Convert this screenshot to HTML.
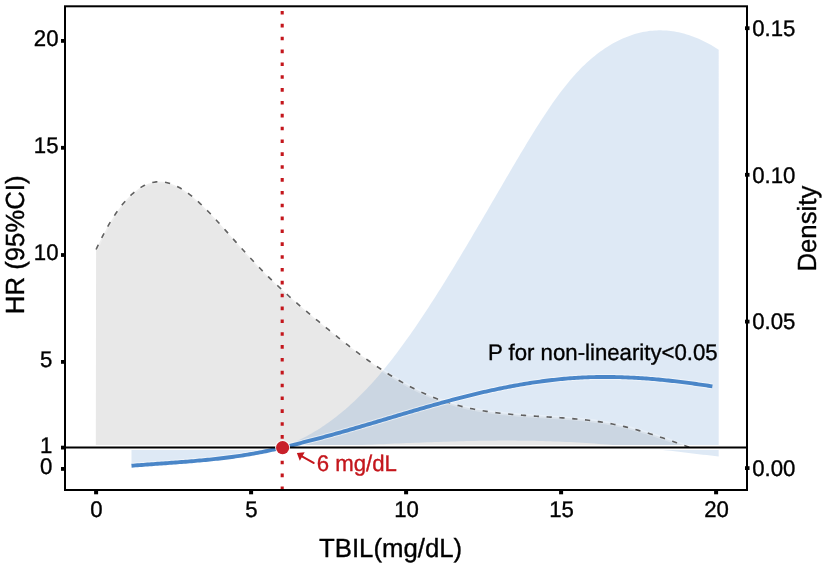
<!DOCTYPE html>
<html><head><meta charset="utf-8"><style>
html,body{margin:0;padding:0;background:#fff;}
svg{display:block;font-family:"Liberation Sans",sans-serif;text-rendering:geometricPrecision;}
</style></head><body>
<div style="will-change:transform;width:827px;height:568px">
<svg width="827" height="568" viewBox="0 0 827 568">
<rect x="0" y="0" width="827" height="568" fill="#fff"/>
<!-- grey density area -->
<path d="M96.10,249.47 L98.10,245.18 L100.10,241.03 L102.10,237.02 L104.11,233.16 L106.11,229.45 L108.11,225.87 L110.11,222.45 L112.11,219.16 L114.11,216.02 L116.11,213.02 L118.11,210.16 L120.12,207.44 L122.12,204.86 L124.12,202.42 L126.12,200.12 L128.12,197.95 L130.12,195.93 L132.12,194.04 L134.13,192.29 L136.13,190.68 L138.13,189.20 L140.13,187.86 L142.13,186.65 L144.13,185.57 L146.13,184.63 L148.14,183.83 L150.14,183.15 L152.14,182.61 L154.14,182.20 L156.14,181.91 L158.14,181.76 L160.14,181.74 L162.14,181.85 L164.15,182.08 L166.15,182.44 L168.15,182.92 L170.15,183.51 L172.15,184.21 L174.15,185.02 L176.15,185.93 L178.16,186.94 L180.16,188.05 L182.16,189.25 L184.16,190.54 L186.16,191.91 L188.16,193.36 L190.16,194.89 L192.16,196.49 L194.17,198.16 L196.17,199.90 L198.17,201.70 L200.17,203.55 L202.17,205.46 L204.17,207.41 L206.17,209.41 L208.18,211.46 L210.18,213.54 L212.18,215.65 L214.18,217.80 L216.18,219.97 L218.18,222.17 L220.18,224.38 L222.18,226.61 L224.19,228.85 L226.19,231.10 L228.19,233.35 L230.19,235.60 L232.19,237.85 L234.19,240.10 L236.19,242.35 L238.20,244.59 L240.20,246.83 L242.20,249.06 L244.20,251.28 L246.20,253.49 L248.20,255.69 L250.20,257.87 L252.21,260.04 L254.21,262.19 L256.21,264.32 L258.21,266.42 L260.21,268.51 L262.21,270.57 L264.21,272.61 L266.21,274.63 L268.22,276.63 L270.22,278.60 L272.22,280.55 L274.22,282.49 L276.22,284.40 L278.22,286.29 L280.22,288.17 L282.23,290.03 L284.23,291.87 L286.23,293.70 L288.23,295.51 L290.23,297.30 L292.23,299.08 L294.23,300.85 L296.23,302.61 L298.24,304.35 L300.24,306.08 L302.24,307.80 L304.24,309.51 L306.24,311.21 L308.24,312.90 L310.24,314.59 L312.25,316.26 L314.25,317.93 L316.25,319.59 L318.25,321.24 L320.25,322.89 L322.25,324.53 L324.25,326.17 L326.25,327.80 L328.26,329.43 L330.26,331.06 L332.26,332.69 L334.26,334.31 L336.26,335.93 L338.26,337.54 L340.26,339.14 L342.27,340.74 L344.27,342.32 L346.27,343.90 L348.27,345.47 L350.27,347.03 L352.27,348.58 L354.27,350.12 L356.28,351.64 L358.28,353.15 L360.28,354.65 L362.28,356.13 L364.28,357.59 L366.28,359.05 L368.28,360.48 L370.28,361.90 L372.29,363.31 L374.29,364.70 L376.29,366.07 L378.29,367.43 L380.29,368.77 L382.29,370.09 L384.29,371.40 L386.30,372.69 L388.30,373.96 L390.30,375.21 L392.30,376.45 L394.30,377.66 L396.30,378.86 L398.30,380.04 L400.30,381.20 L402.31,382.34 L404.31,383.46 L406.31,384.56 L408.31,385.65 L410.31,386.71 L412.31,387.75 L414.31,388.77 L416.32,389.76 L418.32,390.74 L420.32,391.69 L422.32,392.63 L424.32,393.54 L426.32,394.43 L428.32,395.29 L430.32,396.14 L432.33,396.96 L434.33,397.75 L436.33,398.53 L438.33,399.28 L440.33,400.00 L442.33,400.71 L444.33,401.39 L446.34,402.05 L448.34,402.69 L450.34,403.31 L452.34,403.90 L454.34,404.48 L456.34,405.04 L458.34,405.58 L460.35,406.10 L462.35,406.60 L464.35,407.08 L466.35,407.55 L468.35,408.00 L470.35,408.43 L472.35,408.84 L474.35,409.24 L476.36,409.63 L478.36,410.00 L480.36,410.36 L482.36,410.70 L484.36,411.03 L486.36,411.34 L488.36,411.64 L490.37,411.93 L492.37,412.21 L494.37,412.48 L496.37,412.73 L498.37,412.98 L500.37,413.21 L502.37,413.44 L504.37,413.66 L506.38,413.86 L508.38,414.06 L510.38,414.25 L512.38,414.44 L514.38,414.61 L516.38,414.78 L518.38,414.95 L520.39,415.10 L522.39,415.26 L524.39,415.40 L526.39,415.55 L528.39,415.69 L530.39,415.82 L532.39,415.95 L534.39,416.08 L536.40,416.21 L538.40,416.34 L540.40,416.46 L542.40,416.59 L544.40,416.71 L546.40,416.83 L548.40,416.96 L550.41,417.08 L552.41,417.21 L554.41,417.34 L556.41,417.47 L558.41,417.60 L560.41,417.74 L562.41,417.88 L564.42,418.03 L566.42,418.18 L568.42,418.33 L570.42,418.49 L572.42,418.66 L574.42,418.83 L576.42,419.01 L578.42,419.20 L580.43,419.40 L582.43,419.60 L584.43,419.82 L586.43,420.04 L588.43,420.27 L590.43,420.52 L592.43,420.77 L594.44,421.04 L596.44,421.31 L598.44,421.60 L600.44,421.91 L602.44,422.22 L604.44,422.55 L606.44,422.89 L608.44,423.25 L610.45,423.62 L612.45,424.01 L614.45,424.41 L616.45,424.83 L618.45,425.26 L620.45,425.71 L622.45,426.18 L624.46,426.65 L626.46,427.14 L628.46,427.65 L630.46,428.17 L632.46,428.70 L634.46,429.24 L636.46,429.79 L638.46,430.36 L640.47,430.93 L642.47,431.52 L644.47,432.11 L646.47,432.72 L648.47,433.33 L650.47,433.95 L652.47,434.58 L654.48,435.22 L656.48,435.87 L658.48,436.52 L660.48,437.18 L662.48,437.85 L664.48,438.52 L666.48,439.20 L668.49,439.88 L670.49,440.57 L672.49,441.26 L674.49,441.96 L676.49,442.66 L678.49,443.36 L680.49,444.06 L682.49,444.77 L684.50,445.48 L686.50,446.18 L688.50,446.89 L690.50,447.60 L690.50,446 L95.8,446 Z" fill="#e8e8e8"/>
<!-- CI ribbon -->
<path d="M131.5,465.08 L131.5,447.5 L282.6,447.5 L282.60,446.86 L284.60,446.13 L286.60,445.37 L288.60,444.59 L290.60,443.77 L292.60,442.93 L294.60,442.05 L296.60,441.15 L298.60,440.21 L300.60,439.25 L302.60,438.25 L304.61,437.22 L306.61,436.17 L308.61,435.08 L310.61,433.96 L312.61,432.81 L314.61,431.62 L316.61,430.40 L318.61,429.16 L320.61,427.88 L322.61,426.56 L324.61,425.22 L326.61,423.84 L328.61,422.42 L330.61,420.98 L332.61,419.50 L334.61,417.98 L336.61,416.43 L338.61,414.85 L340.61,413.23 L342.61,411.58 L344.61,409.89 L346.61,408.17 L348.62,406.41 L350.62,404.62 L352.62,402.79 L354.62,400.92 L356.62,399.02 L358.62,397.08 L360.62,395.11 L362.62,393.10 L364.62,391.05 L366.62,388.96 L368.62,386.83 L370.62,384.67 L372.62,382.47 L374.62,380.23 L376.62,377.96 L378.62,375.64 L380.62,373.29 L382.62,370.90 L384.62,368.47 L386.62,366.01 L388.62,363.52 L390.62,360.98 L392.63,358.42 L394.63,355.82 L396.63,353.19 L398.63,350.53 L400.63,347.83 L402.63,345.11 L404.63,342.35 L406.63,339.57 L408.63,336.75 L410.63,333.91 L412.63,331.04 L414.63,328.15 L416.63,325.23 L418.63,322.28 L420.63,319.31 L422.63,316.32 L424.63,313.30 L426.63,310.26 L428.63,307.19 L430.63,304.11 L432.63,301.00 L434.63,297.88 L436.64,294.73 L438.64,291.56 L440.64,288.38 L442.64,285.18 L444.64,281.96 L446.64,278.73 L448.64,275.48 L450.64,272.22 L452.64,268.94 L454.64,265.64 L456.64,262.34 L458.64,259.02 L460.64,255.69 L462.64,252.35 L464.64,249.00 L466.64,245.64 L468.64,242.27 L470.64,238.89 L472.64,235.50 L474.64,232.11 L476.64,228.71 L478.64,225.30 L480.65,221.89 L482.65,218.47 L484.65,215.05 L486.65,211.63 L488.65,208.20 L490.65,204.78 L492.65,201.35 L494.65,197.92 L496.65,194.49 L498.65,191.06 L500.65,187.63 L502.65,184.20 L504.65,180.78 L506.65,177.36 L508.65,173.94 L510.65,170.53 L512.65,167.12 L514.65,163.72 L516.65,160.33 L518.65,156.95 L520.65,153.58 L522.66,150.23 L524.66,146.89 L526.66,143.57 L528.66,140.28 L530.66,137.01 L532.66,133.76 L534.66,130.54 L536.66,127.35 L538.66,124.19 L540.66,121.06 L542.66,117.97 L544.66,114.92 L546.66,111.90 L548.66,108.93 L550.66,106.00 L552.66,103.12 L554.66,100.29 L556.66,97.50 L558.66,94.77 L560.66,92.08 L562.66,89.46 L564.66,86.89 L566.67,84.39 L568.67,81.94 L570.67,79.56 L572.67,77.24 L574.67,74.99 L576.67,72.81 L578.67,70.68 L580.67,68.62 L582.67,66.62 L584.67,64.68 L586.67,62.81 L588.67,60.99 L590.67,59.23 L592.67,57.53 L594.67,55.89 L596.67,54.31 L598.67,52.78 L600.67,51.30 L602.67,49.89 L604.67,48.52 L606.67,47.21 L608.67,45.95 L610.68,44.75 L612.68,43.59 L614.68,42.49 L616.68,41.43 L618.68,40.43 L620.68,39.47 L622.68,38.56 L624.68,37.70 L626.68,36.89 L628.68,36.13 L630.68,35.41 L632.68,34.74 L634.68,34.12 L636.68,33.55 L638.68,33.03 L640.68,32.55 L642.68,32.12 L644.68,31.74 L646.68,31.40 L648.68,31.12 L650.68,30.87 L652.68,30.68 L654.69,30.53 L656.69,30.43 L658.69,30.37 L660.69,30.37 L662.69,30.40 L664.69,30.49 L666.69,30.62 L668.69,30.79 L670.69,31.01 L672.69,31.28 L674.69,31.59 L676.69,31.95 L678.69,32.35 L680.69,32.80 L682.69,33.29 L684.69,33.83 L686.69,34.41 L688.69,35.03 L690.69,35.70 L692.69,36.42 L694.69,37.18 L696.69,37.98 L698.70,38.83 L700.70,39.72 L702.70,40.66 L704.70,41.64 L706.70,42.66 L708.70,43.73 L710.70,44.83 L712.70,45.99 L714.70,47.18 L716.70,48.42 L718.70,49.70 L718.7,456.57 L718.70,456.57 L714.70,456.08 L710.70,455.60 L706.70,455.11 L702.70,454.63 L698.70,454.15 L694.69,453.67 L690.69,453.19 L686.69,452.72 L682.69,452.25 L678.69,451.79 L674.69,451.32 L670.69,450.87 L666.69,450.41 L662.69,449.97 L658.69,449.53 L654.69,449.09 L650.68,448.66 L646.68,448.24 L642.68,447.83 L638.68,447.42 L634.68,447.02 L630.68,446.64 L626.68,446.25 L622.68,445.88 L618.68,445.52 L614.68,445.17 L610.68,444.83 L606.67,444.50 L602.67,444.18 L598.67,443.88 L594.67,443.58 L590.67,443.30 L586.67,443.03 L582.67,442.78 L578.67,442.54 L574.67,442.31 L570.67,442.10 L566.67,441.90 L562.66,441.72 L558.66,441.55 L554.66,441.39 L550.66,441.26 L546.66,441.13 L542.66,441.02 L538.66,440.92 L534.66,440.84 L530.66,440.77 L526.66,440.71 L522.66,440.66 L518.65,440.63 L514.65,440.60 L510.65,440.59 L506.65,440.59 L502.65,440.60 L498.65,440.62 L494.65,440.65 L490.65,440.68 L486.65,440.73 L482.65,440.79 L478.64,440.85 L474.64,440.93 L470.64,441.01 L466.64,441.10 L462.64,441.19 L458.64,441.29 L454.64,441.40 L450.64,441.52 L446.64,441.64 L442.64,441.77 L438.64,441.90 L434.63,442.04 L430.63,442.18 L426.63,442.33 L422.63,442.48 L418.63,442.63 L414.63,442.79 L410.63,442.95 L406.63,443.11 L402.63,443.28 L398.63,443.45 L394.63,443.62 L390.62,443.79 L386.62,443.96 L382.62,444.13 L378.62,444.31 L374.62,444.48 L370.62,444.65 L366.62,444.82 L362.62,445.00 L358.62,445.17 L354.62,445.34 L350.62,445.50 L346.61,445.67 L342.61,445.83 L338.61,445.99 L334.61,446.15 L330.61,446.30 L326.61,446.45 L322.61,446.60 L318.61,446.74 L314.61,446.88 L310.61,447.01 L306.61,447.13 L302.60,447.25 L298.60,447.37 L294.60,447.48 L290.60,447.58 L286.60,447.67 L282.60,447.76 L281.73,447.00 L279.73,447.47 L277.73,447.93 L275.72,448.38 L273.72,448.83 L271.72,449.28 L269.71,449.71 L267.71,450.14 L265.71,450.56 L263.70,450.97 L261.70,451.37 L259.70,451.76 L257.70,452.14 L255.69,452.51 L253.69,452.88 L251.69,453.23 L249.68,453.57 L247.68,453.91 L245.68,454.24 L243.67,454.55 L241.67,454.86 L239.67,455.17 L237.66,455.46 L235.66,455.75 L233.66,456.03 L231.66,456.30 L229.65,456.56 L227.65,456.82 L225.65,457.07 L223.64,457.32 L221.64,457.56 L219.64,457.79 L217.63,458.02 L215.63,458.24 L213.63,458.45 L211.62,458.66 L209.62,458.87 L207.62,459.07 L205.61,459.26 L203.61,459.46 L201.61,459.64 L199.61,459.83 L197.60,460.00 L195.60,460.18 L193.60,460.35 L191.59,460.52 L189.59,460.69 L187.59,460.85 L185.58,461.01 L183.58,461.17 L181.58,461.32 L179.57,461.48 L177.57,461.63 L175.57,461.78 L173.57,461.93 L171.56,462.08 L169.56,462.22 L167.56,462.37 L165.55,462.51 L163.55,462.66 L161.55,462.80 L159.54,462.95 L157.54,463.09 L155.54,463.24 L153.53,463.38 L151.53,463.53 L149.53,463.67 L147.52,463.82 L145.52,463.97 L143.52,464.12 L141.52,464.28 L139.51,464.43 L137.51,464.59 L135.51,464.75 L133.50,464.91 L131.50,465.08 Z" fill="#4a86c8" fill-opacity="0.18"/>
<!-- reference line HR=1 -->
<line x1="65" y1="447.6" x2="747" y2="447.6" stroke="#fff" stroke-width="5"/>
<!-- density dashed line -->
<path d="M96.10,249.47 L98.10,245.18 L100.10,241.03 L102.10,237.02 L104.11,233.16 L106.11,229.45 L108.11,225.87 L110.11,222.45 L112.11,219.16 L114.11,216.02 L116.11,213.02 L118.11,210.16 L120.12,207.44 L122.12,204.86 L124.12,202.42 L126.12,200.12 L128.12,197.95 L130.12,195.93 L132.12,194.04 L134.13,192.29 L136.13,190.68 L138.13,189.20 L140.13,187.86 L142.13,186.65 L144.13,185.57 L146.13,184.63 L148.14,183.83 L150.14,183.15 L152.14,182.61 L154.14,182.20 L156.14,181.91 L158.14,181.76 L160.14,181.74 L162.14,181.85 L164.15,182.08 L166.15,182.44 L168.15,182.92 L170.15,183.51 L172.15,184.21 L174.15,185.02 L176.15,185.93 L178.16,186.94 L180.16,188.05 L182.16,189.25 L184.16,190.54 L186.16,191.91 L188.16,193.36 L190.16,194.89 L192.16,196.49 L194.17,198.16 L196.17,199.90 L198.17,201.70 L200.17,203.55 L202.17,205.46 L204.17,207.41 L206.17,209.41 L208.18,211.46 L210.18,213.54 L212.18,215.65 L214.18,217.80 L216.18,219.97 L218.18,222.17 L220.18,224.38 L222.18,226.61 L224.19,228.85 L226.19,231.10 L228.19,233.35 L230.19,235.60 L232.19,237.85 L234.19,240.10 L236.19,242.35 L238.20,244.59 L240.20,246.83 L242.20,249.06 L244.20,251.28 L246.20,253.49 L248.20,255.69 L250.20,257.87 L252.21,260.04 L254.21,262.19 L256.21,264.32 L258.21,266.42 L260.21,268.51 L262.21,270.57 L264.21,272.61 L266.21,274.63 L268.22,276.63 L270.22,278.60 L272.22,280.55 L274.22,282.49 L276.22,284.40 L278.22,286.29 L280.22,288.17 L282.23,290.03 L284.23,291.87 L286.23,293.70 L288.23,295.51 L290.23,297.30 L292.23,299.08 L294.23,300.85 L296.23,302.61 L298.24,304.35 L300.24,306.08 L302.24,307.80 L304.24,309.51 L306.24,311.21 L308.24,312.90 L310.24,314.59 L312.25,316.26 L314.25,317.93 L316.25,319.59 L318.25,321.24 L320.25,322.89 L322.25,324.53 L324.25,326.17 L326.25,327.80 L328.26,329.43 L330.26,331.06 L332.26,332.69 L334.26,334.31 L336.26,335.93 L338.26,337.54 L340.26,339.14 L342.27,340.74 L344.27,342.32 L346.27,343.90 L348.27,345.47 L350.27,347.03 L352.27,348.58 L354.27,350.12 L356.28,351.64 L358.28,353.15 L360.28,354.65 L362.28,356.13 L364.28,357.59 L366.28,359.05 L368.28,360.48 L370.28,361.90 L372.29,363.31 L374.29,364.70 L376.29,366.07 L378.29,367.43 L380.29,368.77 L382.29,370.09 L384.29,371.40 L386.30,372.69 L388.30,373.96 L390.30,375.21 L392.30,376.45 L394.30,377.66 L396.30,378.86 L398.30,380.04 L400.30,381.20 L402.31,382.34 L404.31,383.46 L406.31,384.56 L408.31,385.65 L410.31,386.71 L412.31,387.75 L414.31,388.77 L416.32,389.76 L418.32,390.74 L420.32,391.69 L422.32,392.63 L424.32,393.54 L426.32,394.43 L428.32,395.29 L430.32,396.14 L432.33,396.96 L434.33,397.75 L436.33,398.53 L438.33,399.28 L440.33,400.00 L442.33,400.71 L444.33,401.39 L446.34,402.05 L448.34,402.69 L450.34,403.31 L452.34,403.90 L454.34,404.48 L456.34,405.04 L458.34,405.58 L460.35,406.10 L462.35,406.60 L464.35,407.08 L466.35,407.55 L468.35,408.00 L470.35,408.43 L472.35,408.84 L474.35,409.24 L476.36,409.63 L478.36,410.00 L480.36,410.36 L482.36,410.70 L484.36,411.03 L486.36,411.34 L488.36,411.64 L490.37,411.93 L492.37,412.21 L494.37,412.48 L496.37,412.73 L498.37,412.98 L500.37,413.21 L502.37,413.44 L504.37,413.66 L506.38,413.86 L508.38,414.06 L510.38,414.25 L512.38,414.44 L514.38,414.61 L516.38,414.78 L518.38,414.95 L520.39,415.10 L522.39,415.26 L524.39,415.40 L526.39,415.55 L528.39,415.69 L530.39,415.82 L532.39,415.95 L534.39,416.08 L536.40,416.21 L538.40,416.34 L540.40,416.46 L542.40,416.59 L544.40,416.71 L546.40,416.83 L548.40,416.96 L550.41,417.08 L552.41,417.21 L554.41,417.34 L556.41,417.47 L558.41,417.60 L560.41,417.74 L562.41,417.88 L564.42,418.03 L566.42,418.18 L568.42,418.33 L570.42,418.49 L572.42,418.66 L574.42,418.83 L576.42,419.01 L578.42,419.20 L580.43,419.40 L582.43,419.60 L584.43,419.82 L586.43,420.04 L588.43,420.27 L590.43,420.52 L592.43,420.77 L594.44,421.04 L596.44,421.31 L598.44,421.60 L600.44,421.91 L602.44,422.22 L604.44,422.55 L606.44,422.89 L608.44,423.25 L610.45,423.62 L612.45,424.01 L614.45,424.41 L616.45,424.83 L618.45,425.26 L620.45,425.71 L622.45,426.18 L624.46,426.65 L626.46,427.14 L628.46,427.65 L630.46,428.17 L632.46,428.70 L634.46,429.24 L636.46,429.79 L638.46,430.36 L640.47,430.93 L642.47,431.52 L644.47,432.11 L646.47,432.72 L648.47,433.33 L650.47,433.95 L652.47,434.58 L654.48,435.22 L656.48,435.87 L658.48,436.52 L660.48,437.18 L662.48,437.85 L664.48,438.52 L666.48,439.20 L668.49,439.88 L670.49,440.57 L672.49,441.26 L674.49,441.96 L676.49,442.66 L678.49,443.36 L680.49,444.06 L682.49,444.77 L684.50,445.48 L686.50,446.18 L688.50,446.89 L690.50,447.60" fill="none" stroke="#fff" stroke-opacity="0.28" stroke-width="3.4"/>
<path d="M96.10,249.47 L98.10,245.18 L100.10,241.03 L102.10,237.02 L104.11,233.16 L106.11,229.45 L108.11,225.87 L110.11,222.45 L112.11,219.16 L114.11,216.02 L116.11,213.02 L118.11,210.16 L120.12,207.44 L122.12,204.86 L124.12,202.42 L126.12,200.12 L128.12,197.95 L130.12,195.93 L132.12,194.04 L134.13,192.29 L136.13,190.68 L138.13,189.20 L140.13,187.86 L142.13,186.65 L144.13,185.57 L146.13,184.63 L148.14,183.83 L150.14,183.15 L152.14,182.61 L154.14,182.20 L156.14,181.91 L158.14,181.76 L160.14,181.74 L162.14,181.85 L164.15,182.08 L166.15,182.44 L168.15,182.92 L170.15,183.51 L172.15,184.21 L174.15,185.02 L176.15,185.93 L178.16,186.94 L180.16,188.05 L182.16,189.25 L184.16,190.54 L186.16,191.91 L188.16,193.36 L190.16,194.89 L192.16,196.49 L194.17,198.16 L196.17,199.90 L198.17,201.70 L200.17,203.55 L202.17,205.46 L204.17,207.41 L206.17,209.41 L208.18,211.46 L210.18,213.54 L212.18,215.65 L214.18,217.80 L216.18,219.97 L218.18,222.17 L220.18,224.38 L222.18,226.61 L224.19,228.85 L226.19,231.10 L228.19,233.35 L230.19,235.60 L232.19,237.85 L234.19,240.10 L236.19,242.35 L238.20,244.59 L240.20,246.83 L242.20,249.06 L244.20,251.28 L246.20,253.49 L248.20,255.69 L250.20,257.87 L252.21,260.04 L254.21,262.19 L256.21,264.32 L258.21,266.42 L260.21,268.51 L262.21,270.57 L264.21,272.61 L266.21,274.63 L268.22,276.63 L270.22,278.60 L272.22,280.55 L274.22,282.49 L276.22,284.40 L278.22,286.29 L280.22,288.17 L282.23,290.03 L284.23,291.87 L286.23,293.70 L288.23,295.51 L290.23,297.30 L292.23,299.08 L294.23,300.85 L296.23,302.61 L298.24,304.35 L300.24,306.08 L302.24,307.80 L304.24,309.51 L306.24,311.21 L308.24,312.90 L310.24,314.59 L312.25,316.26 L314.25,317.93 L316.25,319.59 L318.25,321.24 L320.25,322.89 L322.25,324.53 L324.25,326.17 L326.25,327.80 L328.26,329.43 L330.26,331.06 L332.26,332.69 L334.26,334.31 L336.26,335.93 L338.26,337.54 L340.26,339.14 L342.27,340.74 L344.27,342.32 L346.27,343.90 L348.27,345.47 L350.27,347.03 L352.27,348.58 L354.27,350.12 L356.28,351.64 L358.28,353.15 L360.28,354.65 L362.28,356.13 L364.28,357.59 L366.28,359.05 L368.28,360.48 L370.28,361.90 L372.29,363.31 L374.29,364.70 L376.29,366.07 L378.29,367.43 L380.29,368.77 L382.29,370.09 L384.29,371.40 L386.30,372.69 L388.30,373.96 L390.30,375.21 L392.30,376.45 L394.30,377.66 L396.30,378.86 L398.30,380.04 L400.30,381.20 L402.31,382.34 L404.31,383.46 L406.31,384.56 L408.31,385.65 L410.31,386.71 L412.31,387.75 L414.31,388.77 L416.32,389.76 L418.32,390.74 L420.32,391.69 L422.32,392.63 L424.32,393.54 L426.32,394.43 L428.32,395.29 L430.32,396.14 L432.33,396.96 L434.33,397.75 L436.33,398.53 L438.33,399.28 L440.33,400.00 L442.33,400.71 L444.33,401.39 L446.34,402.05 L448.34,402.69 L450.34,403.31 L452.34,403.90 L454.34,404.48 L456.34,405.04 L458.34,405.58 L460.35,406.10 L462.35,406.60 L464.35,407.08 L466.35,407.55 L468.35,408.00 L470.35,408.43 L472.35,408.84 L474.35,409.24 L476.36,409.63 L478.36,410.00 L480.36,410.36 L482.36,410.70 L484.36,411.03 L486.36,411.34 L488.36,411.64 L490.37,411.93 L492.37,412.21 L494.37,412.48 L496.37,412.73 L498.37,412.98 L500.37,413.21 L502.37,413.44 L504.37,413.66 L506.38,413.86 L508.38,414.06 L510.38,414.25 L512.38,414.44 L514.38,414.61 L516.38,414.78 L518.38,414.95 L520.39,415.10 L522.39,415.26 L524.39,415.40 L526.39,415.55 L528.39,415.69 L530.39,415.82 L532.39,415.95 L534.39,416.08 L536.40,416.21 L538.40,416.34 L540.40,416.46 L542.40,416.59 L544.40,416.71 L546.40,416.83 L548.40,416.96 L550.41,417.08 L552.41,417.21 L554.41,417.34 L556.41,417.47 L558.41,417.60 L560.41,417.74 L562.41,417.88 L564.42,418.03 L566.42,418.18 L568.42,418.33 L570.42,418.49 L572.42,418.66 L574.42,418.83 L576.42,419.01 L578.42,419.20 L580.43,419.40 L582.43,419.60 L584.43,419.82 L586.43,420.04 L588.43,420.27 L590.43,420.52 L592.43,420.77 L594.44,421.04 L596.44,421.31 L598.44,421.60 L600.44,421.91 L602.44,422.22 L604.44,422.55 L606.44,422.89 L608.44,423.25 L610.45,423.62 L612.45,424.01 L614.45,424.41 L616.45,424.83 L618.45,425.26 L620.45,425.71 L622.45,426.18 L624.46,426.65 L626.46,427.14 L628.46,427.65 L630.46,428.17 L632.46,428.70 L634.46,429.24 L636.46,429.79 L638.46,430.36 L640.47,430.93 L642.47,431.52 L644.47,432.11 L646.47,432.72 L648.47,433.33 L650.47,433.95 L652.47,434.58 L654.48,435.22 L656.48,435.87 L658.48,436.52 L660.48,437.18 L662.48,437.85 L664.48,438.52 L666.48,439.20 L668.49,439.88 L670.49,440.57 L672.49,441.26 L674.49,441.96 L676.49,442.66 L678.49,443.36 L680.49,444.06 L682.49,444.77 L684.50,445.48 L686.50,446.18 L688.50,446.89 L690.50,447.60" fill="none" stroke="#616161" stroke-width="1.6" stroke-dasharray="5.2 7.65"/>
<!-- HR line -->
<g transform="translate(0,0.7)"><path d="M131.50,465.08 L133.50,464.91 L135.51,464.75 L137.51,464.59 L139.51,464.43 L141.52,464.28 L143.52,464.12 L145.52,463.97 L147.52,463.82 L149.53,463.67 L151.53,463.53 L153.53,463.38 L155.54,463.24 L157.54,463.09 L159.54,462.95 L161.55,462.80 L163.55,462.66 L165.55,462.51 L167.56,462.37 L169.56,462.22 L171.56,462.08 L173.57,461.93 L175.57,461.78 L177.57,461.63 L179.57,461.48 L181.58,461.32 L183.58,461.17 L185.58,461.01 L187.59,460.85 L189.59,460.69 L191.59,460.52 L193.60,460.35 L195.60,460.18 L197.60,460.00 L199.61,459.83 L201.61,459.64 L203.61,459.46 L205.61,459.26 L207.62,459.07 L209.62,458.87 L211.62,458.66 L213.63,458.45 L215.63,458.24 L217.63,458.02 L219.64,457.79 L221.64,457.56 L223.64,457.32 L225.65,457.07 L227.65,456.82 L229.65,456.56 L231.66,456.30 L233.66,456.03 L235.66,455.75 L237.66,455.46 L239.67,455.17 L241.67,454.86 L243.67,454.55 L245.68,454.24 L247.68,453.91 L249.68,453.57 L251.69,453.23 L253.69,452.88 L255.69,452.51 L257.70,452.14 L259.70,451.76 L261.70,451.37 L263.70,450.97 L265.71,450.56 L267.71,450.14 L269.71,449.71 L271.72,449.28 L273.72,448.83 L275.72,448.38 L277.73,447.93 L279.73,447.47 L281.73,447.00 L283.74,446.52 L285.74,446.04 L287.74,445.56 L289.75,445.07 L291.75,444.57 L293.75,444.07 L295.75,443.57 L297.76,443.07 L299.76,442.56 L301.76,442.05 L303.77,441.54 L305.77,441.02 L307.77,440.51 L309.78,439.99 L311.78,439.47 L313.78,438.95 L315.79,438.42 L317.79,437.90 L319.79,437.36 L321.79,436.83 L323.80,436.29 L325.80,435.75 L327.80,435.21 L329.81,434.66 L331.81,434.11 L333.81,433.55 L335.82,432.99 L337.82,432.43 L339.82,431.87 L341.83,431.30 L343.83,430.73 L345.83,430.16 L347.84,429.58 L349.84,429.01 L351.84,428.43 L353.84,427.84 L355.85,427.26 L357.85,426.67 L359.85,426.09 L361.86,425.50 L363.86,424.91 L365.86,424.31 L367.87,423.72 L369.87,423.13 L371.87,422.53 L373.88,421.94 L375.88,421.34 L377.88,420.74 L379.88,420.14 L381.89,419.54 L383.89,418.94 L385.89,418.34 L387.90,417.75 L389.90,417.15 L391.90,416.55 L393.91,415.95 L395.91,415.35 L397.91,414.75 L399.92,414.16 L401.92,413.56 L403.92,412.96 L405.93,412.37 L407.93,411.78 L409.93,411.18 L411.93,410.59 L413.94,410.01 L415.94,409.42 L417.94,408.83 L419.95,408.25 L421.95,407.67 L423.95,407.09 L425.96,406.51 L427.96,405.94 L429.96,405.36 L431.97,404.79 L433.97,404.23 L435.97,403.66 L437.97,403.10 L439.98,402.54 L441.98,401.99 L443.98,401.44 L445.99,400.89 L447.99,400.35 L449.99,399.81 L452.00,399.27 L454.00,398.74 L456.00,398.21 L458.01,397.68 L460.01,397.16 L462.01,396.65 L464.02,396.14 L466.02,395.63 L468.02,395.13 L470.02,394.63 L472.03,394.14 L474.03,393.65 L476.03,393.17 L478.04,392.69 L480.04,392.22 L482.04,391.75 L484.05,391.29 L486.05,390.83 L488.05,390.38 L490.06,389.94 L492.06,389.50 L494.06,389.06 L496.06,388.63 L498.07,388.21 L500.07,387.80 L502.07,387.39 L504.08,386.98 L506.08,386.58 L508.08,386.19 L510.09,385.81 L512.09,385.43 L514.09,385.05 L516.10,384.69 L518.10,384.33 L520.10,383.98 L522.11,383.63 L524.11,383.29 L526.11,382.96 L528.11,382.63 L530.12,382.32 L532.12,382.01 L534.12,381.70 L536.13,381.41 L538.13,381.12 L540.13,380.84 L542.14,380.57 L544.14,380.30 L546.14,380.04 L548.15,379.79 L550.15,379.55 L552.15,379.32 L554.15,379.09 L556.16,378.87 L558.16,378.66 L560.16,378.46 L562.17,378.27 L564.17,378.09 L566.17,377.91 L568.18,377.74 L570.18,377.59 L572.18,377.44 L574.19,377.30 L576.19,377.16 L578.19,377.04 L580.20,376.93 L582.20,376.82 L584.20,376.73 L586.20,376.64 L588.21,376.57 L590.21,376.50 L592.21,376.44 L594.22,376.39 L596.22,376.34 L598.22,376.31 L600.23,376.29 L602.23,376.27 L604.23,376.26 L606.24,376.26 L608.24,376.27 L610.24,376.28 L612.24,376.31 L614.25,376.34 L616.25,376.38 L618.25,376.42 L620.26,376.48 L622.26,376.54 L624.26,376.61 L626.27,376.68 L628.27,376.77 L630.27,376.86 L632.28,376.96 L634.28,377.06 L636.28,377.17 L638.29,377.29 L640.29,377.42 L642.29,377.55 L644.29,377.69 L646.30,377.83 L648.30,377.98 L650.30,378.14 L652.31,378.31 L654.31,378.48 L656.31,378.65 L658.32,378.83 L660.32,379.02 L662.32,379.21 L664.33,379.41 L666.33,379.62 L668.33,379.83 L670.33,380.05 L672.34,380.27 L674.34,380.49 L676.34,380.72 L678.35,380.96 L680.35,381.20 L682.35,381.45 L684.36,381.70 L686.36,381.96 L688.36,382.22 L690.37,382.48 L692.37,382.75 L694.37,383.03 L696.38,383.31 L698.38,383.59 L700.38,383.88 L702.38,384.17 L704.39,384.46 L706.39,384.76 L708.39,385.07 L710.40,385.37 L712.40,385.68" fill="none" stroke="#fff" stroke-opacity="0.5" stroke-width="5.9"/>
<path d="M131.50,465.08 L133.50,464.91 L135.51,464.75 L137.51,464.59 L139.51,464.43 L141.52,464.28 L143.52,464.12 L145.52,463.97 L147.52,463.82 L149.53,463.67 L151.53,463.53 L153.53,463.38 L155.54,463.24 L157.54,463.09 L159.54,462.95 L161.55,462.80 L163.55,462.66 L165.55,462.51 L167.56,462.37 L169.56,462.22 L171.56,462.08 L173.57,461.93 L175.57,461.78 L177.57,461.63 L179.57,461.48 L181.58,461.32 L183.58,461.17 L185.58,461.01 L187.59,460.85 L189.59,460.69 L191.59,460.52 L193.60,460.35 L195.60,460.18 L197.60,460.00 L199.61,459.83 L201.61,459.64 L203.61,459.46 L205.61,459.26 L207.62,459.07 L209.62,458.87 L211.62,458.66 L213.63,458.45 L215.63,458.24 L217.63,458.02 L219.64,457.79 L221.64,457.56 L223.64,457.32 L225.65,457.07 L227.65,456.82 L229.65,456.56 L231.66,456.30 L233.66,456.03 L235.66,455.75 L237.66,455.46 L239.67,455.17 L241.67,454.86 L243.67,454.55 L245.68,454.24 L247.68,453.91 L249.68,453.57 L251.69,453.23 L253.69,452.88 L255.69,452.51 L257.70,452.14 L259.70,451.76 L261.70,451.37 L263.70,450.97 L265.71,450.56 L267.71,450.14 L269.71,449.71 L271.72,449.28 L273.72,448.83 L275.72,448.38 L277.73,447.93 L279.73,447.47 L281.73,447.00 L283.74,446.52 L285.74,446.04 L287.74,445.56 L289.75,445.07 L291.75,444.57 L293.75,444.07 L295.75,443.57 L297.76,443.07 L299.76,442.56 L301.76,442.05 L303.77,441.54 L305.77,441.02 L307.77,440.51 L309.78,439.99 L311.78,439.47 L313.78,438.95 L315.79,438.42 L317.79,437.90 L319.79,437.36 L321.79,436.83 L323.80,436.29 L325.80,435.75 L327.80,435.21 L329.81,434.66 L331.81,434.11 L333.81,433.55 L335.82,432.99 L337.82,432.43 L339.82,431.87 L341.83,431.30 L343.83,430.73 L345.83,430.16 L347.84,429.58 L349.84,429.01 L351.84,428.43 L353.84,427.84 L355.85,427.26 L357.85,426.67 L359.85,426.09 L361.86,425.50 L363.86,424.91 L365.86,424.31 L367.87,423.72 L369.87,423.13 L371.87,422.53 L373.88,421.94 L375.88,421.34 L377.88,420.74 L379.88,420.14 L381.89,419.54 L383.89,418.94 L385.89,418.34 L387.90,417.75 L389.90,417.15 L391.90,416.55 L393.91,415.95 L395.91,415.35 L397.91,414.75 L399.92,414.16 L401.92,413.56 L403.92,412.96 L405.93,412.37 L407.93,411.78 L409.93,411.18 L411.93,410.59 L413.94,410.01 L415.94,409.42 L417.94,408.83 L419.95,408.25 L421.95,407.67 L423.95,407.09 L425.96,406.51 L427.96,405.94 L429.96,405.36 L431.97,404.79 L433.97,404.23 L435.97,403.66 L437.97,403.10 L439.98,402.54 L441.98,401.99 L443.98,401.44 L445.99,400.89 L447.99,400.35 L449.99,399.81 L452.00,399.27 L454.00,398.74 L456.00,398.21 L458.01,397.68 L460.01,397.16 L462.01,396.65 L464.02,396.14 L466.02,395.63 L468.02,395.13 L470.02,394.63 L472.03,394.14 L474.03,393.65 L476.03,393.17 L478.04,392.69 L480.04,392.22 L482.04,391.75 L484.05,391.29 L486.05,390.83 L488.05,390.38 L490.06,389.94 L492.06,389.50 L494.06,389.06 L496.06,388.63 L498.07,388.21 L500.07,387.80 L502.07,387.39 L504.08,386.98 L506.08,386.58 L508.08,386.19 L510.09,385.81 L512.09,385.43 L514.09,385.05 L516.10,384.69 L518.10,384.33 L520.10,383.98 L522.11,383.63 L524.11,383.29 L526.11,382.96 L528.11,382.63 L530.12,382.32 L532.12,382.01 L534.12,381.70 L536.13,381.41 L538.13,381.12 L540.13,380.84 L542.14,380.57 L544.14,380.30 L546.14,380.04 L548.15,379.79 L550.15,379.55 L552.15,379.32 L554.15,379.09 L556.16,378.87 L558.16,378.66 L560.16,378.46 L562.17,378.27 L564.17,378.09 L566.17,377.91 L568.18,377.74 L570.18,377.59 L572.18,377.44 L574.19,377.30 L576.19,377.16 L578.19,377.04 L580.20,376.93 L582.20,376.82 L584.20,376.73 L586.20,376.64 L588.21,376.57 L590.21,376.50 L592.21,376.44 L594.22,376.39 L596.22,376.34 L598.22,376.31 L600.23,376.29 L602.23,376.27 L604.23,376.26 L606.24,376.26 L608.24,376.27 L610.24,376.28 L612.24,376.31 L614.25,376.34 L616.25,376.38 L618.25,376.42 L620.26,376.48 L622.26,376.54 L624.26,376.61 L626.27,376.68 L628.27,376.77 L630.27,376.86 L632.28,376.96 L634.28,377.06 L636.28,377.17 L638.29,377.29 L640.29,377.42 L642.29,377.55 L644.29,377.69 L646.30,377.83 L648.30,377.98 L650.30,378.14 L652.31,378.31 L654.31,378.48 L656.31,378.65 L658.32,378.83 L660.32,379.02 L662.32,379.21 L664.33,379.41 L666.33,379.62 L668.33,379.83 L670.33,380.05 L672.34,380.27 L674.34,380.49 L676.34,380.72 L678.35,380.96 L680.35,381.20 L682.35,381.45 L684.36,381.70 L686.36,381.96 L688.36,382.22 L690.37,382.48 L692.37,382.75 L694.37,383.03 L696.38,383.31 L698.38,383.59 L700.38,383.88 L702.38,384.17 L704.39,384.46 L706.39,384.76 L708.39,385.07 L710.40,385.37 L712.40,385.68" fill="none" stroke="#4a86c8" stroke-width="3.85"/></g>
<line x1="65" y1="447.6" x2="747" y2="447.6" stroke="#000" stroke-width="2"/>
<!-- red dotted vertical -->
<line x1="282.2" y1="11" x2="282.2" y2="490" stroke="#c4161c" stroke-width="3.1" stroke-dasharray="3.6 9.25"/>
<circle cx="282.6" cy="447.6" r="7.4" fill="#fff"/>
<circle cx="282.6" cy="447.6" r="6.6" fill="#c8202a"/>
<!-- arrow -->
<line x1="313.6" y1="462.9" x2="301.5" y2="456.2" stroke="#c4161c" stroke-width="2.1" stroke-linecap="round"/>
<polygon points="296.9,453.1 304.7,452.2 299.8,460.7" fill="#c4161c"/>
<!-- frame -->
<rect x="65" y="6.3" width="682" height="483.7" fill="none" stroke="#000" stroke-width="2"/>
<!-- left ticks -->
<g fill="#000">
<rect x="61" y="39" width="4" height="3.8"/>
<rect x="61" y="145.9" width="4" height="3.8"/>
<rect x="61" y="253.1" width="4" height="3.8"/>
<rect x="61" y="360" width="4" height="3.8"/>
<rect x="61" y="445.7" width="4" height="3.8"/>
<rect x="61" y="467" width="4" height="3.8"/>
</g>
<!-- bottom ticks -->
<g fill="#000">
<rect x="94.1" y="490" width="4" height="4.3"/>
<rect x="249.1" y="490" width="4" height="4.3"/>
<rect x="404.1" y="490" width="4" height="4.3"/>
<rect x="559.1" y="490" width="4" height="4.3"/>
<rect x="714.1" y="490" width="4" height="4.3"/>
</g>
<!-- right ticks -->
<g fill="#000">
<rect x="745" y="26.3" width="4.5" height="3.8"/>
<rect x="745" y="172.9" width="4.5" height="3.8"/>
<rect x="745" y="319.7" width="4.5" height="3.8"/>
<rect x="745" y="466.2" width="4.5" height="3.8"/>
</g>
<!-- axis titles -->
<text transform="translate(316.70,470.70) scale(1,1.020)" font-size="22.20" text-anchor="start" fill="#c4161c" stroke="#c4161c" stroke-width="0.35">6 mg/dL</text>
<text transform="translate(488.00,359.70) scale(1,1.020)" font-size="22.20" text-anchor="start" fill="#000" stroke="#000" stroke-width="0.35">P for non-linearity&lt;0.05</text>
<text transform="translate(46.20,46.20) scale(1,1.020)" font-size="22.20" text-anchor="middle" fill="#000" stroke="#000" stroke-width="0.35">20</text>
<text transform="translate(46.20,153.10) scale(1,1.020)" font-size="22.20" text-anchor="middle" fill="#000" stroke="#000" stroke-width="0.35">15</text>
<text transform="translate(46.20,260.06) scale(1,1.020)" font-size="22.20" text-anchor="middle" fill="#000" stroke="#000" stroke-width="0.35">10</text>
<text transform="translate(46.20,367.00) scale(1,1.020)" font-size="22.20" text-anchor="middle" fill="#000" stroke="#000" stroke-width="0.35">5</text>
<text transform="translate(46.20,452.50) scale(1,1.020)" font-size="22.20" text-anchor="middle" fill="#000" stroke="#000" stroke-width="0.35">1</text>
<text transform="translate(46.20,473.90) scale(1,1.020)" font-size="22.20" text-anchor="middle" fill="#000" stroke="#000" stroke-width="0.35">0</text>
<text transform="translate(96.50,516.80) scale(1,1.020)" font-size="22.20" text-anchor="middle" fill="#000" stroke="#000" stroke-width="0.35">0</text>
<text transform="translate(251.50,516.80) scale(1,1.020)" font-size="22.20" text-anchor="middle" fill="#000" stroke="#000" stroke-width="0.35">5</text>
<text transform="translate(406.50,516.80) scale(1,1.020)" font-size="22.20" text-anchor="middle" fill="#000" stroke="#000" stroke-width="0.35">10</text>
<text transform="translate(561.50,516.80) scale(1,1.020)" font-size="22.20" text-anchor="middle" fill="#000" stroke="#000" stroke-width="0.35">15</text>
<text transform="translate(716.50,516.80) scale(1,1.020)" font-size="22.20" text-anchor="middle" fill="#000" stroke="#000" stroke-width="0.35">20</text>
<text transform="translate(752.20,35.90) scale(1,1.020)" font-size="22.20" text-anchor="start" fill="#000" stroke="#000" stroke-width="0.35">0.15</text>
<text transform="translate(752.20,182.50) scale(1,1.020)" font-size="22.20" text-anchor="start" fill="#000" stroke="#000" stroke-width="0.35">0.10</text>
<text transform="translate(752.20,329.10) scale(1,1.020)" font-size="22.20" text-anchor="start" fill="#000" stroke="#000" stroke-width="0.35">0.05</text>
<text transform="translate(752.20,475.80) scale(1,1.020)" font-size="22.20" text-anchor="start" fill="#000" stroke="#000" stroke-width="0.35">0.00</text>
<text transform="translate(319.00,556.80) scale(1,1.020)" font-size="25.75" text-anchor="start" fill="#000" stroke="#000" stroke-width="0.35">TBIL(mg/dL)</text>
<text transform="translate(24.30,314.20) rotate(-90) scale(1,1.020)" font-size="25.75" text-anchor="start" fill="#000" stroke="#000" stroke-width="0.35">HR (95%CI)</text>
<text transform="translate(816.20,271.60) rotate(-90) scale(1,1.020)" font-size="25.75" text-anchor="start" fill="#000" stroke="#000" stroke-width="0.35">Density</text>
</svg>
</div>
</body></html>
